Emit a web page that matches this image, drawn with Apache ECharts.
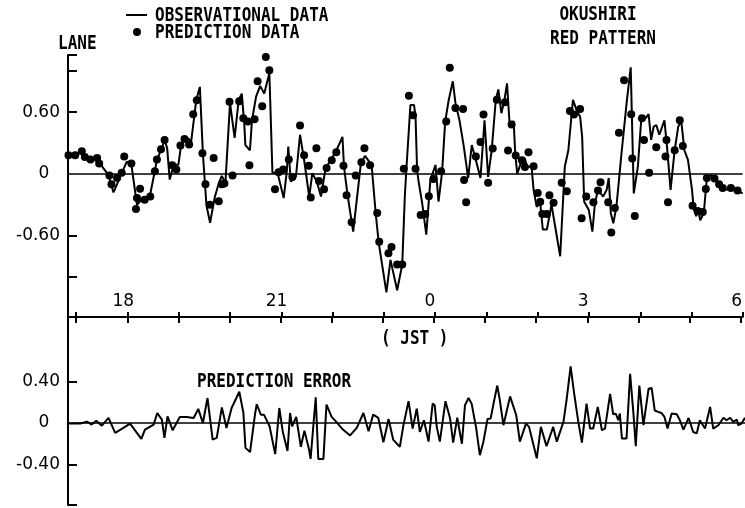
<!DOCTYPE html>
<html>
<head>
<meta charset="utf-8">
<script src="https://cdn.jsdelivr.net/npm/echarts@6/dist/echarts.min.js"></script>
<style>
  html, body { margin: 0; padding: 0; background: #fff; }
  #chart { width: 745px; height: 508px; }
</style>
</head>
<body>
<div id="chart"></div>
<script>
// Time is in hours JST; 24-30 are 00-06 of the following day.

// Observed lane value (solid line)
const obsTime = [16.85,16.98,17.11,17.19,17.30,17.41,17.48,17.63,17.73,17.99,18.08,18.17,18.19,18.28,18.44,18.54,18.58,18.67,18.73,18.78,
  18.83,18.91,19.00,19.05,19.12,19.21,19.24,19.35,19.42,19.48,19.55,19.62,19.71,19.79,19.85,19.92,20.01,20.10,20.18,20.24,
  20.29,20.31,20.40,20.44,20.52,20.60,20.68,20.78,20.84,20.94,21.06,21.12,21.15,21.20,21.30,21.38,21.46,21.56,21.62,21.71,
  21.79,21.88,21.98,22.08,22.21,22.24,22.31,22.42,22.57,22.65,22.78,22.86,22.92,23.07,23.15,23.28,23.38,23.43,23.46,23.54,
  23.61,23.64,23.67,23.70,23.77,23.85,23.93,24.03,24.09,24.16,24.22,24.29,24.37,24.42,24.50,24.58,24.67,24.74,24.82,24.91,
  24.99,25.06,25.13,25.21,25.26,25.32,25.38,25.43,25.48,25.56,25.59,25.63,25.72,25.78,25.82,25.91,25.95,26.01,26.08,26.13,
  26.21,26.30,26.47,26.56,26.63,26.72,26.79,26.86,26.90,26.94,27.03,27.10,27.15,27.21,27.31,27.38,27.42,27.46,27.51,27.57,
  27.67,27.77,27.85,27.91,27.99,28.06,28.14,28.20,28.25,28.30,28.35,28.41,28.51,28.56,28.63,28.71,28.78,28.84,28.90,28.97,
  29.05,29.08,29.13,29.17,29.21,29.28,29.34,29.42,29.49,29.58,29.68,29.81,29.91,30.04];
const obsLane = [0.18,0.19,0.22,0.165,0.14,0.155,0.09,-0.01,-0.18,0.12,0.09,-0.23,-0.30,-0.25,-0.22,0.03,0.14,0.24,0.33,0.25,
  -0.055,0.09,0.09,0.27,0.35,0.34,0.275,0.72,0.845,0.19,-0.31,-0.475,-0.23,-0.09,-0.02,-0.09,0.69,0.35,0.72,0.78,
  0.48,0.28,0.23,0.52,0.75,0.855,0.78,0.98,0.01,0.01,-0.235,0.02,0.265,-0.075,-0.025,0.38,0.135,-0.22,0.006,-0.075,
  -0.22,0.055,0.135,0.215,0.36,0.07,-0.205,-0.56,0.10,0.175,0.087,-0.38,-0.67,-1.15,-0.835,-1.13,-0.88,-0.22,0.04,0.67,
  0.67,0.556,0.04,-0.075,-0.285,-0.59,-0.06,0.087,-0.27,0.02,0.51,0.72,0.90,0.69,0.52,0.28,-0.04,0.28,0.136,-0.04,
  0.52,-0.03,0.23,0.72,0.82,0.59,0.72,0.88,0.49,0.51,0.20,0.0,0.136,0.15,0.07,0.07,-0.155,-0.32,-0.285,-0.54,
  -0.54,-0.30,-0.80,0.07,0.23,0.72,0.62,0.556,0.36,-0.27,-0.35,-0.56,-0.285,-0.155,-0.22,-0.155,-0.04,-0.38,-0.48,-0.32,
  0.20,0.69,1.035,-0.19,0.07,0.556,0.54,0.58,0.33,0.46,0.475,0.38,0.52,0.265,-0.155,0.23,0.46,0.51,0.23,0.136,
  -0.155,-0.33,-0.41,-0.35,-0.45,-0.38,-0.04,-0.01,-0.04,-0.12,-0.155,-0.15,-0.155,-0.19];

// Predicted lane value (dots)
const predTime = [16.85,16.98,17.11,17.17,17.28,17.41,17.45,17.65,17.69,17.80,17.89,17.94,18.08,18.17,18.19,18.25,18.34,18.45,18.54,18.58,
  18.66,18.73,18.88,18.96,19.04,19.12,19.21,19.29,19.36,19.47,19.53,19.62,19.69,19.79,19.85,19.90,20.00,20.06,20.19,20.27,
  20.36,20.39,20.49,20.55,20.64,20.71,20.78,20.89,20.96,21.05,21.16,21.23,21.38,21.46,21.55,21.59,21.70,21.75,21.85,21.90,
  22.00,22.09,22.23,22.29,22.39,22.47,22.58,22.64,22.75,22.89,22.93,23.11,23.17,23.28,23.38,23.41,23.51,23.59,23.64,23.74,
  23.83,23.90,23.99,24.14,24.24,24.31,24.42,24.57,24.59,24.63,24.82,24.91,24.97,25.06,25.15,25.23,25.39,25.45,25.52,25.60,
  25.72,25.78,25.85,25.95,26.03,26.08,26.12,26.21,26.26,26.34,26.50,26.60,26.66,26.74,26.86,26.89,26.98,27.12,27.21,27.26,
  27.41,27.47,27.54,27.62,27.72,27.86,27.88,27.93,28.07,28.11,28.21,28.35,28.53,28.55,28.58,28.71,28.81,28.87,29.06,29.16,
  29.26,29.32,29.34,29.49,29.58,29.65,29.81,29.94];
const predLane = [0.18,0.18,0.22,0.165,0.14,0.155,0.10,-0.015,-0.10,-0.04,0.01,0.17,0.10,-0.34,-0.235,-0.145,-0.25,-0.22,0.026,0.14,
  0.24,0.33,0.084,0.042,0.275,0.34,0.285,0.58,0.715,0.20,-0.10,-0.30,0.155,-0.265,-0.10,-0.094,0.70,-0.016,0.705,0.54,
  0.51,0.084,0.53,0.90,0.657,1.136,1.006,-0.15,0.016,0.042,0.14,-0.03,0.47,0.18,0.08,-0.23,0.25,-0.07,-0.15,0.058,
  0.133,0.21,0.08,-0.207,-0.47,-0.016,0.113,0.25,0.084,-0.38,-0.66,-0.77,-0.71,-0.88,-0.88,0.05,0.76,0.57,0.05,-0.40,
  -0.39,-0.217,-0.05,0.026,0.51,1.03,0.64,0.63,-0.06,-0.275,0.17,0.31,0.576,-0.087,0.246,0.72,0.696,0.227,0.48,0.178,
  0.133,0.068,0.21,0.074,-0.185,-0.27,-0.39,-0.39,-0.207,-0.28,-0.087,-0.168,0.61,0.576,0.63,-0.43,-0.22,-0.275,-0.16,-0.08,
  -0.275,-0.57,-0.33,0.40,0.91,0.58,0.15,-0.41,0.54,0.33,0.01,0.26,0.17,0.33,-0.275,0.23,0.52,0.27,-0.31,-0.36,
  -0.37,-0.146,-0.04,-0.045,-0.10,-0.136,-0.136,-0.16];

// Prediction error
const errTime = [16.85,17.08,17.21,17.30,17.39,17.50,17.63,17.76,17.92,18.05,18.27,18.34,18.51,18.58,18.67,18.72,18.78,18.88,19.02,19.15,
  19.29,19.38,19.47,19.56,19.66,19.74,19.84,19.93,20.03,20.18,20.26,20.30,20.39,20.49,20.52,20.60,20.66,20.77,20.88,20.96,
  21.03,21.12,21.17,21.21,21.29,21.38,21.45,21.54,21.57,21.67,21.72,21.82,21.88,21.98,22.05,22.20,22.34,22.47,22.60,22.70,
  22.79,22.89,22.99,23.09,23.18,23.31,23.38,23.48,23.56,23.64,23.70,23.78,23.87,23.95,23.99,24.03,24.09,24.20,24.29,24.35,
  24.43,24.52,24.58,24.65,24.71,24.80,24.87,24.94,25.02,25.08,25.15,25.21,25.26,25.33,25.46,25.58,25.65,25.77,25.83,25.98,
  26.06,26.17,26.30,26.37,26.50,26.56,26.64,26.71,26.79,26.86,26.95,27.02,27.08,27.17,27.25,27.31,27.41,27.47,27.52,27.57,
  27.60,27.64,27.73,27.80,27.86,27.91,27.98,28.06,28.16,28.22,28.28,28.35,28.41,28.47,28.53,28.61,28.71,28.77,28.84,28.94,
  29.03,29.10,29.16,29.26,29.36,29.42,29.52,29.62,29.68,29.75,29.81,29.88,29.91,29.97,30.04];
const errValue = [-0.006,-0.006,0.013,-0.016,0.022,-0.026,0.048,-0.096,-0.048,-0.006,-0.154,-0.064,-0.016,0.096,0.032,-0.144,0.064,-0.07,0.058,0.058,
  0.048,0.135,0.0,0.24,-0.16,-0.144,0.15,-0.048,0.144,0.30,0.096,-0.24,-0.28,0.096,0.18,0.08,0.08,-0.032,-0.30,0.144,
  -0.09,-0.27,0.096,-0.032,0.058,-0.23,-0.074,-0.256,-0.346,0.247,-0.346,-0.346,0.176,0.058,0.022,-0.064,-0.12,-0.048,0.096,-0.08,
  0.08,0.048,-0.186,0.038,-0.16,-0.23,-0.022,0.21,-0.054,0.138,-0.087,0.026,-0.18,0.186,0.17,-0.038,-0.18,0.21,0.042,-0.19,
  0.05,-0.20,0.17,0.24,0.186,-0.054,-0.31,-0.18,0.038,0.042,0.218,0.36,0.218,-0.022,0.256,0.074,-0.18,-0.006,-0.038,-0.34,
  -0.038,-0.224,-0.038,-0.18,0.01,0.218,0.545,0.28,0.01,-0.19,0.186,-0.054,-0.054,0.154,-0.07,-0.054,0.28,0.083,0.09,0.026,
  0.09,-0.15,-0.15,0.474,0.12,-0.224,0.36,-0.022,0.33,0.336,0.12,0.106,0.096,0.058,-0.054,0.09,0.083,0.026,-0.064,0.048,
  -0.087,-0.10,0.026,-0.054,0.154,-0.054,-0.022,0.05,0.026,0.05,0.01,0.032,-0.022,-0.006,0.05];

// Axis tick positions
const hourTicks = [17,18,19,20,21,22,23,24,25,26,27,28,29,30];
const hourLabels = [18,21,24,27,30];
const laneTicks = [1.155,1.0,0.6,-0.6,-1.0];
const laneLabels = [0.6,0,-0.6];
const errTicks = [0.4,-0.4,-0.79];
const errLabels = [0.4,0,-0.4];

const zip = (xs, ys) => xs.map((x, i) => [x, ys[i]]);

const INK = '#000';
const MONO = '"DejaVu Sans Mono", monospace';
const SANS = '"DejaVu Sans", sans-serif';
const X_MIN = 16.84, X_MAX = 30.04;

const valueLabel = v => (v === 0 ? '0  ' : v.toFixed(2));

function stretchedText(text, x, y, align) {
  return {
    type: 'text', x: x, y: y, scaleY: 1.22, silent: true,
    style: {
      text: text, x: 0, y: 0, fill: INK,
      font: 'bold 16px ' + MONO,
      textAlign: align || 'left', textVerticalAlign: 'middle'
    }
  };
}

const chart = echarts.init(document.getElementById('chart'), null, { renderer: 'canvas' });

chart.setOption({
  backgroundColor: '#fff',
  animation: false,
  grid: [
    { left: 68, top: 55, width: 677, height: 262 },
    { left: 68, top: 317, width: 677, height: 188 }
  ],
  xAxis: [
    {
      gridIndex: 0, type: 'value', min: X_MIN, max: X_MAX, position: 'bottom',
      axisLine: { show: true, onZero: false, lineStyle: { color: INK, width: 2 } },
      axisTick: { show: true, inside: false, length: 6, customValues: hourTicks, lineStyle: { color: INK, width: 2 } },
      axisLabel: {
        inside: true, margin: 7, customValues: hourLabels,
        formatter: v => String(v % 24),
        color: INK, fontFamily: SANS, fontSize: 17, padding: [0, 8, 0, 0]
      },
      splitLine: { show: false }
    },
    {
      gridIndex: 1, type: 'value', min: X_MIN, max: X_MAX, position: 'top',
      axisLine: { show: false, onZero: false },
      axisTick: { show: true, inside: false, length: 5, customValues: hourTicks, lineStyle: { color: INK, width: 2 } },
      axisLabel: { show: false },
      splitLine: { show: false }
    }
  ],
  yAxis: [
    {
      gridIndex: 0, type: 'value', min: -1.39, max: 1.155,
      axisLine: { show: true, onZero: false, lineStyle: { color: INK, width: 2 } },
      axisTick: { show: true, inside: true, length: 9, customValues: laneTicks, lineStyle: { color: INK, width: 2 } },
      axisLabel: { customValues: laneLabels, formatter: valueLabel, margin: 8, color: INK, fontFamily: SANS, fontSize: 17 },
      splitLine: { show: false }
    },
    {
      gridIndex: 1, type: 'value', min: -0.79, max: 1.02,
      axisLine: { show: true, onZero: false, lineStyle: { color: INK, width: 2 } },
      axisTick: { show: true, inside: true, length: 9, customValues: errTicks, lineStyle: { color: INK, width: 2 } },
      axisLabel: { customValues: errLabels, formatter: valueLabel, margin: 8, color: INK, fontFamily: SANS, fontSize: 17 },
      splitLine: { show: false }
    }
  ],
  series: [
    {
      name: 'OBSERVATIONAL DATA', type: 'line', xAxisIndex: 0, yAxisIndex: 0,
      data: zip(obsTime, obsLane), symbol: 'none',
      lineStyle: { color: INK, width: 2 },
      markLine: {
        silent: true, symbol: 'none', label: { show: false },
        lineStyle: { color: INK, width: 1.6, type: 'solid' },
        data: [{ yAxis: 0 }]
      }
    },
    {
      name: 'PREDICTION DATA', type: 'scatter', xAxisIndex: 0, yAxisIndex: 0,
      data: zip(predTime, predLane), symbol: 'circle', symbolSize: 8,
      itemStyle: { color: INK, opacity: 1 }
    },
    {
      name: 'PREDICTION ERROR', type: 'line', xAxisIndex: 1, yAxisIndex: 1,
      data: zip(errTime, errValue), symbol: 'none',
      lineStyle: { color: INK, width: 2 },
      markLine: {
        silent: true, symbol: 'none', label: { show: false },
        lineStyle: { color: INK, width: 1.6, type: 'solid' },
        data: [{ yAxis: 0 }]
      }
    }
  ],
  graphic: [
    // key
    { type: 'line', silent: true, shape: { x1: 126, y1: 15, x2: 147, y2: 15 }, style: { stroke: INK, lineWidth: 2 } },
    { type: 'circle', silent: true, shape: { cx: 137, cy: 32, r: 4 }, style: { fill: INK } },
    stretchedText('OBSERVATIONAL DATA', 155, 16),
    stretchedText('PREDICTION DATA', 155, 33),
    // titles and axis names
    stretchedText('OKUSHIRI', 598, 15, 'center'),
    stretchedText('RED PATTERN', 603, 39, 'center'),
    stretchedText('LANE', 58, 44),
    stretchedText('PREDICTION ERROR', 197, 382),
    stretchedText('( JST )', 381, 339)
  ]
});
</script>
</body>
</html>
